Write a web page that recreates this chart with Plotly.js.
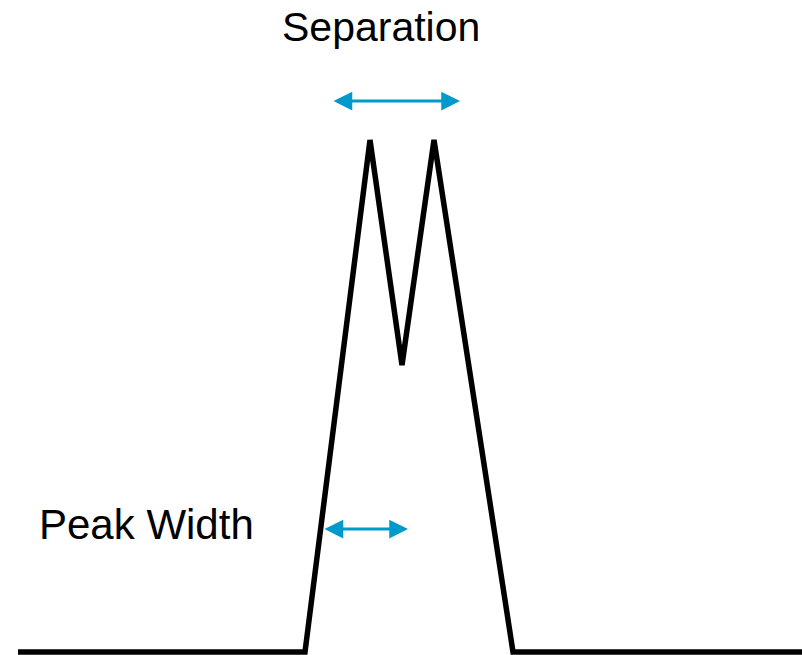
<!DOCTYPE html>
<html>
<head>
<meta charset="utf-8">
<script src="https://cdn.plot.ly/plotly-3.0.1.min.js"></script>
<style>
  html, body { margin: 0; padding: 0; background: #fff; }
  #chart { width: 802px; height: 655px; }
</style>
</head>
<body>
<div id="chart"></div>
<script>
// peak profile (x position, signal height)
const profileX = [18, 305, 370, 402, 434, 513, 802];
const profileY = [3, 3, 515, 290, 515, 3, 3];

// double arrows: [from x, to x, height]
const separationArrow = [332, 460, 554];
const widthArrow = [323, 408, 126];

const labels = ['Separation', 'Peak Width'];

const arrowBlue = '#0099cc';

const profile = {
    x: profileX,
    y: profileY,
    mode: 'lines',
    line: {color: 'black', width: 5.5},
    hoverinfo: 'skip'
};

function doubleArrow(a) {
    return {
        x: a[1], y: a[2], ax: a[0], ay: a[2],
        xref: 'x', yref: 'y', axref: 'x', ayref: 'y',
        text: '',
        showarrow: true,
        arrowhead: 2, startarrowhead: 2,
        arrowside: 'end+start',
        arrowsize: 1.25, startarrowsize: 1.25,
        arrowwidth: 3,
        arrowcolor: arrowBlue,
        standoff: 0, startstandoff: 0
    };
}

const labelFont = {family: 'Liberation Sans, Arial, sans-serif', size: 41, color: 'black'};

const layout = {
    width: 802,
    height: 655,
    margin: {l: 0, r: 0, t: 0, b: 0},
    paper_bgcolor: 'white',
    plot_bgcolor: 'white',
    showlegend: false,
    xaxis: {range: [0, 802], visible: false, fixedrange: true},
    yaxis: {range: [0, 655], visible: false, fixedrange: true},
    annotations: [
        doubleArrow(separationArrow),
        doubleArrow(widthArrow),
        {x: 381, y: 628, xref: 'x', yref: 'y', text: labels[0], showarrow: false,
         xanchor: 'center', yanchor: 'middle', font: labelFont},
        {x: 37, y: 131, xref: 'x', yref: 'y', text: labels[1], showarrow: false,
         xanchor: 'left', yanchor: 'middle', font: {...labelFont, size: 42}}
    ]
};

Plotly.newPlot('chart', [profile], layout, {displayModeBar: false, staticPlot: true});
</script>
</body>
</html>
